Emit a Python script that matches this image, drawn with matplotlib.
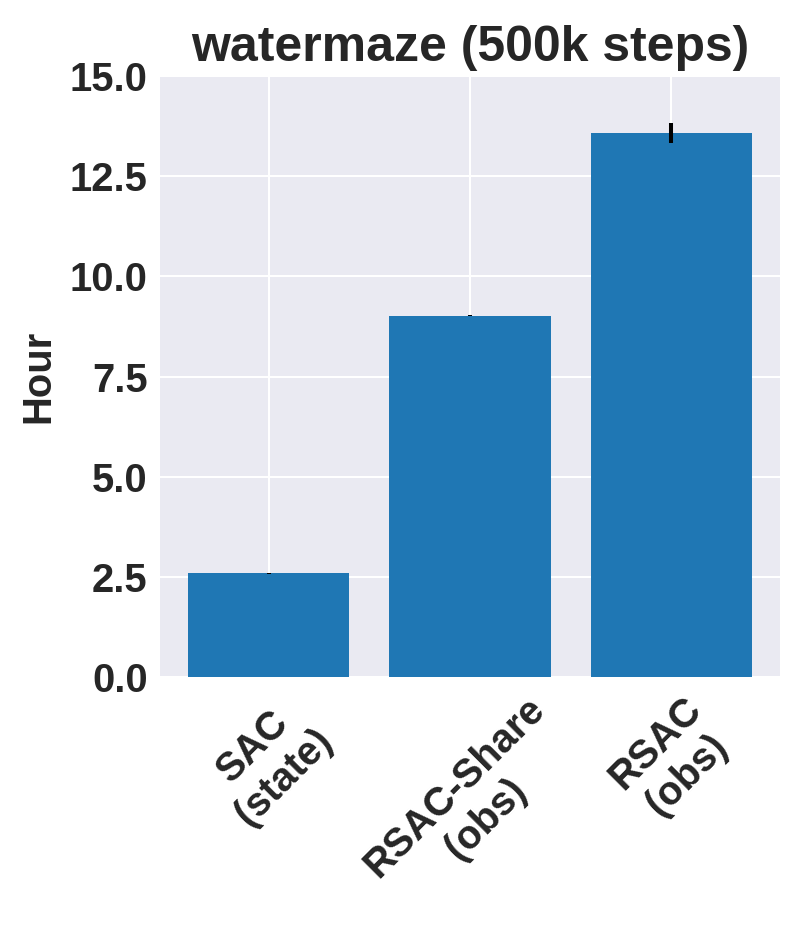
import matplotlib
matplotlib.use("Agg")
import matplotlib.pyplot as plt
import seaborn as sns
import numpy as np

categories = ["SAC\n(state)", "RSAC-Share\n(obs)", "RSAC\n(obs)"]
hours = [2.59, 9.02, 13.58]
hour_err = [0.015, 0.015, 0.25]
yticks = [0.0, 2.5, 5.0, 7.5, 10.0, 12.5, 15.0]
title = "watermaze (500k steps)"
ylabel = "Hour"

sns.set_style("darkgrid")
plt.rcParams['font.family'] = ['Liberation Sans', 'DejaVu Sans']
plt.rcParams['font.weight'] = 'bold'
plt.rcParams['axes.labelweight'] = 'bold'
plt.rcParams['axes.titleweight'] = 'bold'

fig = plt.figure(figsize=(7.99, 9.41), dpi=100)
ax = fig.add_axes([160/799, 1 - 677/941, 620/799, 601/941])
ax.set_facecolor('#EAEAF2')
ax.grid(True, color='white', linewidth=1.5)
ax.set_axisbelow(True)
for s in ax.spines.values():
    s.set_visible(False)

x = np.arange(len(categories))
ax.bar(x, hours, width=0.8, color='#1f77b4', linewidth=0, edgecolor='none',
       yerr=hour_err, error_kw=dict(ecolor='black', elinewidth=2.9, capsize=0))

ax.set_ylim(0, 15)
ax.set_yticks(yticks)
ax.set_yticklabels([f"{v:.1f}" for v in yticks], fontsize=28.8, fontweight='bold', color='#262626')
ax.set_xticks(x)
ax.set_xticklabels(categories, rotation=45, ha='center', fontsize=28.8, fontweight='bold', color='#262626')
ax.tick_params(axis='both', length=0)
ax.tick_params(axis='y', pad=9)
ax.tick_params(axis='x', pad=9.5)
ax.set_ylabel(ylabel, fontsize=28.8, fontweight='bold', color='#262626', labelpad=9)
ax.set_title(title, fontsize=36, fontweight='bold', color='#262626', pad=11)

fig.savefig("out.png", dpi=100)
